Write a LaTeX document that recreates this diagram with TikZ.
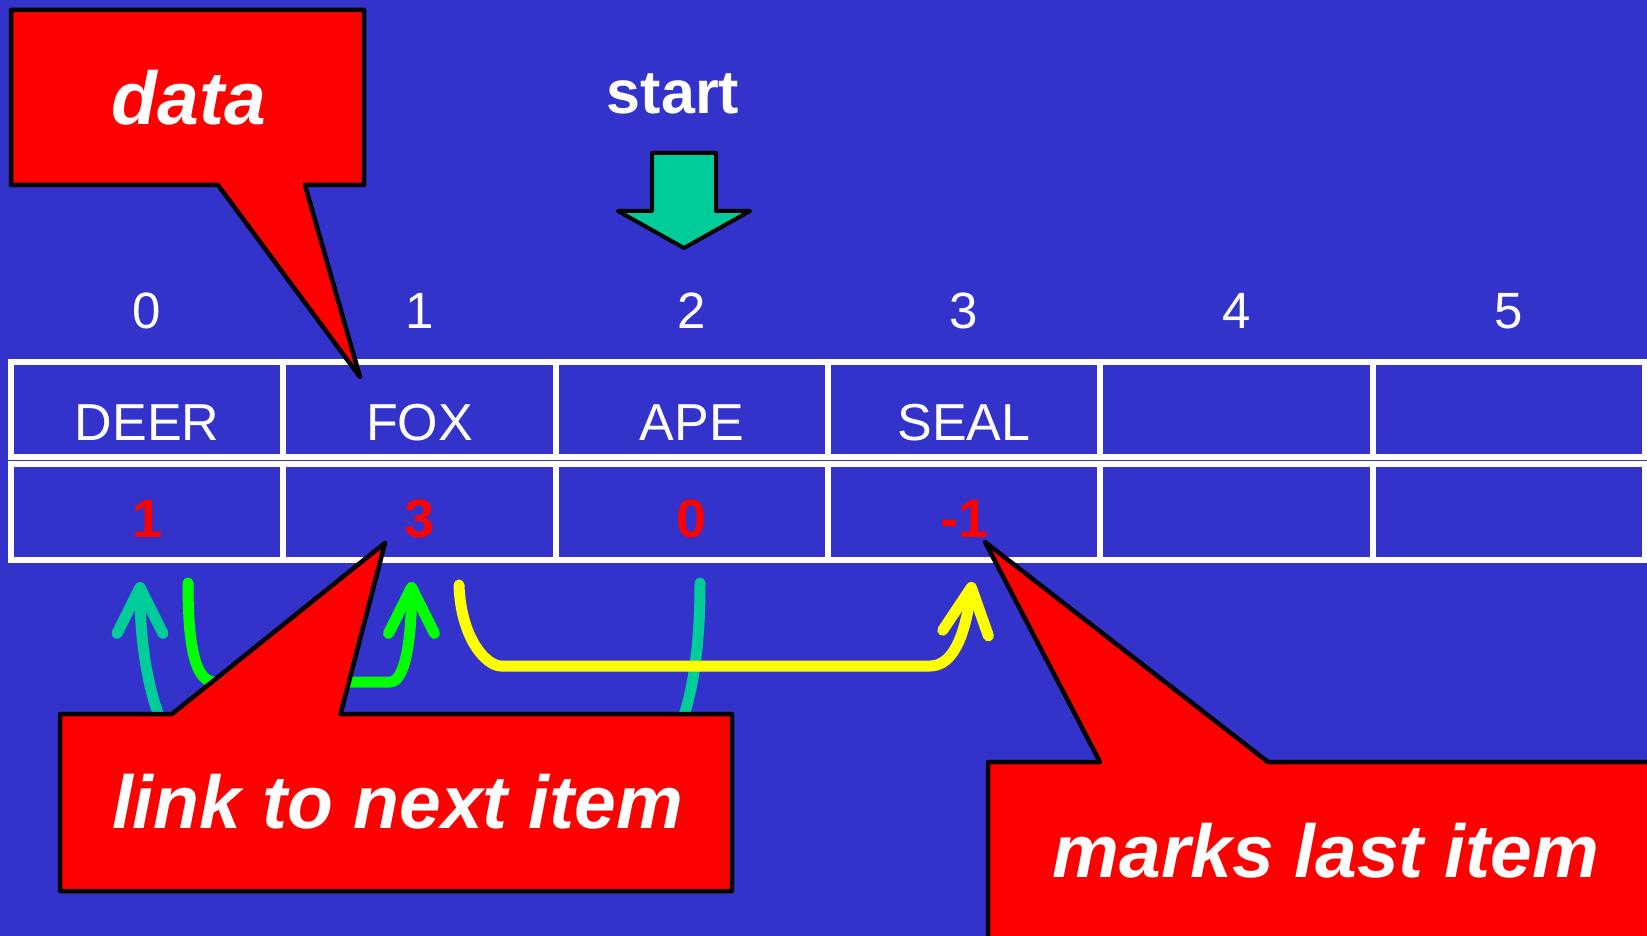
\documentclass[tikz,border=0pt]{standalone}
\usepackage{fontspec}
\setmainfont{Liberation Sans}
\usetikzlibrary{arrows.meta}
\definecolor{slide}{RGB}{51,51,204}
\definecolor{linkteal}{RGB}{0,204,153}
\definecolor{linkgreen}{RGB}{0,255,0}
\definecolor{linkyellow}{RGB}{255,255,0}
\definecolor{calloutred}{RGB}{255,0,0}
\begin{document}
\begin{tikzpicture}[x=1pt,y=-1pt,
  cell/.style={draw=white, line width=6pt, minimum width=272.3pt, inner sep=0pt, anchor=center},
  idx/.style={text=white, font=\fontsize{51}{55}\selectfont, anchor=base, inner sep=0pt},
  word/.style={text=white, font=\fontsize{52}{56}\selectfont, anchor=base, inner sep=0pt},
  nextval/.style={text=calloutred, font=\fontsize{54}{58}\selectfont\bfseries, anchor=base, inner sep=0pt},
  linkarrow/.style={line width=11pt, line cap=round, line join=round,
    -{Straight Barb[length=46pt, width=46pt, round]}},
  callout/.style={fill=calloutred, draw=black, line width=4.5pt, line join=round},
  ctext/.style={text=white, font=\fontsize{75}{80}\selectfont\bfseries\itshape, anchor=base, inner sep=0pt},
  pointer/.style={fill=linkteal, draw=black, line width=4pt, line join=round}
]
\useasboundingbox (0,0) rectangle (1647,936);
\clip (0,0) rectangle (1647,936);
\fill[slide] (0,0) rectangle (1647,936);

% the array: index, data row and link row
\foreach \i/\w/\n in {0/DEER/1, 1/FOX/3, 2/APE/0, 3/SEAL/-1, 4//, 5//} {
  \pgfmathsetmacro\cx{147.15+272.3*\i}
  \node[idx] (i\i) at (\cx,328) {\i};
  \node[cell, minimum height=95pt] (c\i) at (\cx,409.5) {};
  \node[cell, minimum height=96pt] (l\i) at (\cx,512) {};
  \node[word] (w\i) at (\cx,440) {\w};
  \node[nextval] (n\i) at (\cx,537) {\n};
}

% link arrows
\coordinate (fromAPE) at (700,583);
\coordinate (toDEER) at (140,582);
\coordinate (fromDEER) at (188,583);
\coordinate (toFOX) at (411.5,582);
\coordinate (fromFOX) at (459,585);
\coordinate (toSEAL) at (972,582);

\draw[linkarrow, linkteal] (fromAPE) .. controls (700,690) and (680,790) .. (600,790)
  -- (240,790) .. controls (170,790) and (140,690) .. (toDEER);
\draw[linkarrow, linkgreen] (fromDEER) .. controls (188,650) and (196,682) .. (215,682)
  -- (390,682) .. controls (405,682) and (411.5,640) .. (toFOX);
\draw[linkarrow, linkyellow] (fromFOX) .. controls (461,640) and (487,666) .. (501,666)
  -- (930,666) .. controls (955,666) and (966,630) .. (toSEAL);

% start pointer
\node[text=white, font=\fontsize{61}{65}\selectfont\bfseries, anchor=base, inner sep=0pt]
  (start) at (673,114) {start};
\draw[pointer] (652,153) -- (716,153) -- (716,211) -- (750,211) -- (684,248)
  -- (618,211) -- (652,211) -- cycle;

% callouts
\draw[callout] (11,10) -- (364,10) -- (364,185) -- (305,185) -- (360,377)
  -- (218,185) -- (11,185) -- cycle;
\node[ctext] (data) at (189,125) {data};

\draw[callout] (60,714) -- (172,714) -- (385,543) -- (340.6,714) -- (732,714)
  -- (732,891) -- (60,891) -- cycle;
\node[ctext] (link) at (397.5,828) {link to next item};

\draw[callout] (988,762) -- (1100,762) -- (985,542) -- (1268,762) -- (1670,762)
  -- (1670,960) -- (988,960) -- cycle;
\node[ctext] (last) at (1326,877) {marks last item};
\end{tikzpicture}
\end{document}
